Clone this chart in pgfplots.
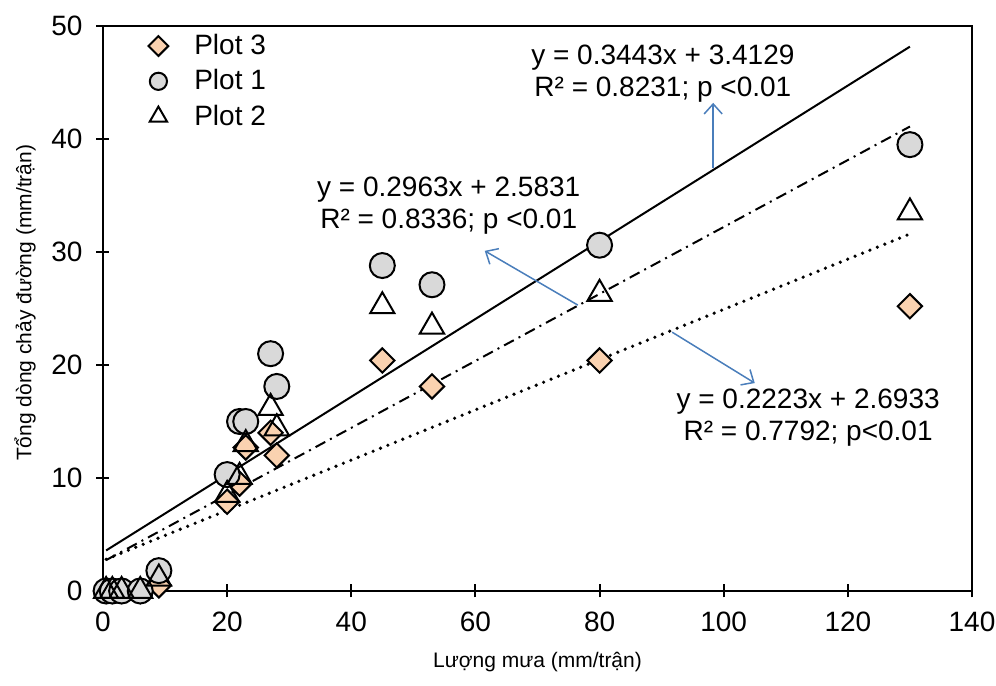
\documentclass[border=0pt]{standalone}
\usepackage{fontspec}
\setmainfont{Liberation Sans}
\usepackage{pgfplots}
\pgfplotsset{compat=1.18}
\usetikzlibrary{arrows.meta}
\definecolor{circfill}{HTML}{D9D9D9}
\definecolor{diafill}{HTML}{FAD2B0}
\definecolor{arrowblue}{HTML}{4A7EBB}

\pgfplotstableread{
x y
0.5 0
1.5 0
3 0
6 0
9 1.8
20 10.3
22 15
23 15
27 21
28 18.1
45 28.8
53 27.1
80 30.6
130 39.5
}\plotone

\pgfplotstableread{
x y
0.5 0
1.5 0
3 0
6 0
9 1.1
20 8.5
22 10.1
23 13
27 16.2
28 14.4
45 25.2
53 23.4
80 26.3
130 33.5
}\plottwo

\pgfplotstableread{
x y
0.5 0
1.5 0
3 0
6 0
9 0.5
20 7.9
22 9.5
23 12.7
27 14
28 12
45 20.4
53 18.1
80 20.4
130 25.2
}\plotthree

\begin{document}
\begin{tikzpicture}[font=\fontsize{14}{16}\selectfont]
\begin{axis}[
  scale only axis, width=434.5pt, height=282.5pt,
  xmin=0, xmax=140, ymin=0, ymax=50,
  xtick={0,20,...,140}, ytick={0,10,...,50},
  tick align=center, major tick length=6.5pt,
  xtick pos=bottom, ytick pos=left,
  axis line style={line width=1pt},
  every tick/.style={black, line width=1pt},
  /pgf/number format/assume math mode=true,
  tick label style={font=\fontsize{14}{16}\selectfont},
  xticklabel style={yshift=-3.5pt},
  yticklabel style={xshift=-3.5pt},
  xlabel={Lượng mưa (mm/trận)},
  ylabel={Tổng dòng chảy đường (mm/trận)},
  every axis x label/.style={at={(axis description cs:0.5,0)}, yshift=-35.5pt, anchor=center, font=\fontsize{10.5}{12}\selectfont},
  every axis y label/.style={at={(axis description cs:0,0.51)}, xshift=-39pt, rotate=90, anchor=center, font=\fontsize{10.5}{12}\selectfont},
  clip=false,
  legend style={draw=none, fill=none, at={(0.045,1.0)}, anchor=north west,
    font=\fontsize{14}{16}\selectfont, row sep=2pt, column sep=11pt},
  legend cell align=left,
]
\addlegendimage{only marks, mark=square*, mark size=3.5pt, mark options={rotate=45, fill=diafill, draw=black, line width=1pt}}
\addlegendentry{Plot 3}
\addlegendimage{only marks, mark=*, mark size=4.3pt, mark options={fill=circfill, draw=black, line width=1pt}}
\addlegendentry{Plot 1}
\addlegendimage{only marks, mark=triangle, mark size=5pt, mark options={draw=black, line width=1pt}}
\addlegendentry{Plot 2}

\addplot[forget plot, only marks, mark=square*, mark size=4.3pt, mark options={rotate=45, fill=diafill, draw=black, line width=1pt}] table {\plotthree};
\addplot[forget plot, only marks, mark=*, mark size=6.25pt, mark options={fill=circfill, draw=black, line width=1pt}] table {\plotone};
\addplot[forget plot, only marks, mark=triangle, mark size=7pt, mark options={draw=black, line width=1pt}] table {\plottwo};

% trendlines (endpoints of the fitted lines)
\addplot[forget plot, black, line width=1pt] coordinates {(0.5,3.585) (130,48.172)};
\addplot[forget plot, black, line width=1pt, dash pattern=on 5.5pt off 2.7pt on 1pt off 2.7pt] coordinates {(0.5,2.731) (130,41.102)};
\addplot[forget plot, black, line width=1.8pt, line cap=round, dash pattern=on 0pt off 4pt] coordinates {(0.5,2.805) (130,31.592)};

\node[align=center, inner sep=0pt, font=\fontsize{14}{16}\selectfont] at (axis cs:90.2,45.8) {y = 0.3443x + 3.4129\\R² = 0.8231; p <0.01};
\node[align=center, inner sep=0pt, font=\fontsize{14}{16}\selectfont] at (axis cs:55.7,34.1) {y = 0.2963x + 2.5831\\R² = 0.8336; p <0.01};
\node[align=center, inner sep=0pt, font=\fontsize{14}{16}\selectfont] at (axis cs:113.6,15.3) {y = 0.2223x + 2.6933\\R² = 0.7792; p<0.01};

\draw[arrowblue, line width=0.75pt, -{Straight Barb[length=5pt,width=9pt]}] (axis cs:98.3,37.4) -- (axis cs:98.3,43.2);
\draw[arrowblue, line width=0.75pt, -{Straight Barb[length=5pt,width=9pt]}] (axis cs:76.5,25.3) -- (axis cs:61.5,30.1);
\draw[arrowblue, line width=0.75pt, -{Straight Barb[length=5pt,width=9pt]}] (axis cs:91.7,22.9) -- (axis cs:105.0,18.4);

\coordinate (SW) at (rel axis cs:0,0);
\coordinate (NE) at (rel axis cs:1,1);
\end{axis}
\pgfresetboundingbox
\path[use as bounding box] ([xshift=-51.5pt,yshift=-47.5pt]SW) rectangle ([xshift=12pt,yshift=13pt]NE);
\end{tikzpicture}
\end{document}
